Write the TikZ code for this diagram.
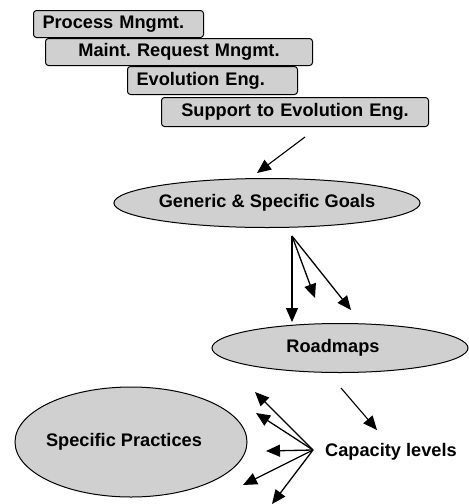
\documentclass[tikz,border=0pt]{standalone}
\usepackage{fontspec}
\setmainfont{Liberation Sans}
\usetikzlibrary{shapes.geometric,arrows.meta}
\definecolor{boxgray}{RGB}{208,208,208}
\frenchspacing
\tikzset{
  pbox/.style={draw=black, line width=1pt, fill=boxgray, rounded corners=3pt, anchor=north west,
    font=\fontsize{18.2}{20}\selectfont\bfseries, inner ysep=0pt},
  oval/.style={ellipse, draw=black, line width=1pt, fill=boxgray, inner sep=0pt,
    font=\fontsize{18.2}{20}\selectfont\bfseries},
  lbl/.style={inner sep=0pt, font=\fontsize{18.2}{20}\selectfont\bfseries},
  arr/.style={line width=1.3pt, -{Triangle[length=14pt,width=12pt]}},
  arrthin/.style={line width=1.1pt, -{Triangle[length=14pt,width=12pt]}}
}
\begin{document}
\begin{tikzpicture}[x=1pt,y=-1pt]
\useasboundingbox (0,0) rectangle (469,504);
% stacked boxes
\node[pbox, minimum height=27pt, text width=152pt, inner xsep=9pt, align=left] (b1) at (33,10) {Process Mngmt.};
\node[pbox, minimum height=27pt, text width=247pt, inner xsep=10pt, align=center] (b2) at (45,38) {Maint. Request Mngmt.};
\node[pbox, minimum height=28pt, text width=152pt, inner xsep=9pt, align=left] (b3) at (127,66) {Evolution Eng.};
\node[pbox, minimum height=29pt, text width=237pt, inner xsep=15pt, align=center] (b4) at (161,97) {Support to Evolution Eng.};
% ellipses
\node[oval, minimum width=262pt, minimum height=49pt] (goals) at (267,203) {Generic \& Specific Goals};
\node[oval, minimum width=256pt, minimum height=49pt] (road) at (340,348) {\hspace{-14pt}Roadmaps};
\node[oval, minimum width=232pt, minimum height=110pt] (prac) at (131,442) {\hspace{-14pt}Specific Practices};
\node[lbl, anchor=base west] (cap) at (325,456) {Capacity levels};
% coordinates
\coordinate (s1) at (305,137);
\coordinate (e1) at (257,173);
\coordinate (g0) at (292,236);
\coordinate (g1) at (292,322);
\coordinate (g2) at (315,298);
\coordinate (g3) at (351,310);
\coordinate (r0) at (341,388);
\coordinate (r1) at (377,430);
\coordinate (c0) at (313,450);
\coordinate (c1) at (255,392);
\coordinate (c2) at (256,413);
\coordinate (c3) at (266,451);
\coordinate (c4) at (243,485);
\coordinate (c5) at (272,504);
% arrows
\draw[arrthin] (s1) -- (e1);
\draw[arr] (g0) -- (g1);
\draw[arr] (g0) -- (g2);
\draw[arr] (g0) -- (g3);
\draw[arrthin] (r0) -- (r1);
\draw[arr] (c0) -- (c1);
\draw[arr] (c0) -- (c2);
\draw[arr] (c0) -- (c3);
\draw[arr] (c0) -- (c4);
\draw[arr] (c0) -- (c5);
\end{tikzpicture}
\end{document}
